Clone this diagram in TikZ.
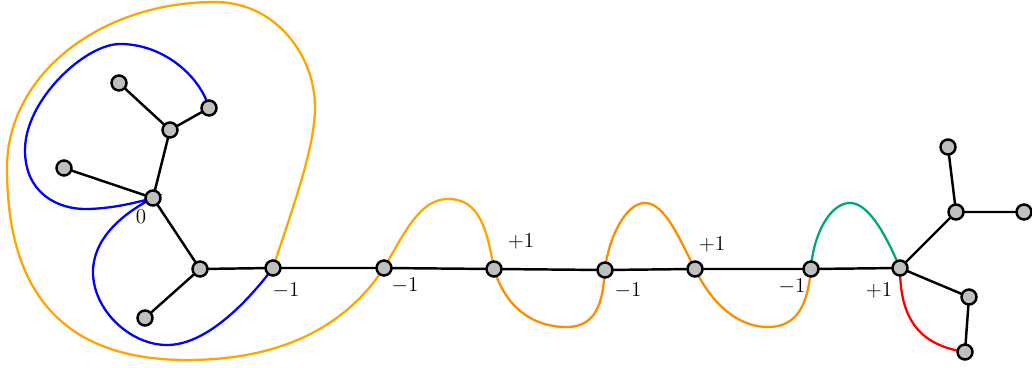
\documentclass[tikz,border=0pt]{standalone}
\usepackage{xcolor}
\definecolor{orgA}{RGB}{255,165,0}
\definecolor{orgB}{RGB}{255,140,0}
\definecolor{grn}{RGB}{0,166,126}
\tikzset{
  vtx/.style={circle,draw=black,fill=black!25,line width=1.4pt,inner sep=0pt,minimum size=3.0mm},
  edge/.style={line width=1.4pt,black},
  crv/.style={line width=1.3pt},
  lbl/.style={font=\fontsize{12}{14}\selectfont,inner sep=0pt}
}
\begin{document}
\begin{tikzpicture}[x=0.02cm,y=-0.02cm]
\useasboundingbox (0,0) rectangle (1032,368);
% vertex positions
\coordinate (A) at (119,83);
\coordinate (B) at (209,108);
\coordinate (C) at (170,130);
\coordinate (D) at (64,168);
\coordinate (E) at (153,198);
\coordinate (F) at (200,269);
\coordinate (G) at (145,318);
\coordinate (H) at (273,268);
\coordinate (I) at (384,268);
\coordinate (J) at (494,269);
\coordinate (K) at (605,270);
\coordinate (L) at (695,269);
\coordinate (M) at (811,269);
\coordinate (N) at (900,268);
\coordinate (O) at (948,147);
\coordinate (P) at (956,212);
\coordinate (Q) at (1024,212);
\coordinate (R) at (969,297);
\coordinate (S) at (965,352);
% curves
\draw[crv,blue] (B) .. controls (201,78) and (165,44) .. (120,44)
  .. controls (85,44) and (25,100) .. (25,150)
  .. controls (25,195) and (60,209) .. (85,209)
  .. controls (110,209) and (135,203) .. (E)
  .. controls (120,215) and (93,240) .. (93,272)
  .. controls (93,310) and (130,345) .. (167,345)
  .. controls (205,345) and (245,305) .. (H);
\draw[crv,orgA] (H) .. controls (290,215) and (315,150) .. (315,107)
  .. controls (315,55) and (275,2) .. (215,2)
  .. controls (100,2) and (7,75) .. (7,168)
  .. controls (7,300) and (70,360) .. (187,360)
  .. controls (290,360) and (350,320) .. (I)
  .. controls (405,232) and (420,199) .. (448,199)
  .. controls (480,199) and (487,230) .. (J);
\draw[crv,orgB] (J) .. controls (505,305) and (530,327) .. (567,327)
  .. controls (600,327) and (603,295) .. (K)
  .. controls (608,240) and (625,203) .. (645,203)
  .. controls (665,203) and (680,240) .. (L)
  .. controls (710,300) and (735,327) .. (768,327)
  .. controls (800,327) and (808,300) .. (M);
\draw[crv,grn] (M) .. controls (813,235) and (830,203) .. (850,203)
  .. controls (870,203) and (888,240) .. (N);
\draw[crv,red] (N) .. controls (900,320) and (920,345) .. (S);
% edges
\draw[edge] (A) -- (C) (B) -- (C) (C) -- (E) (D) -- (E) (E) -- (F) (F) -- (G)
  (F) -- (H) -- (I) -- (J) -- (K) -- (L) -- (M) -- (N)
  (N) -- (P) (P) -- (O) (P) -- (Q) (N) -- (R) -- (S);
% vertices
\foreach \v in {A,B,C,D,E,F,G,H,I,J,K,L,M,N,O,P,Q,R,S}
  \node[vtx] (n\v) at (\v) {};
% labels
\node[lbl] (l0) at (141,217) {$0$};
\node[lbl] (l1) at (286,291) {$-1$};
\node[lbl] (l2) at (405,286) {$-1$};
\node[lbl] (l3) at (521,242) {$+1$};
\node[lbl] (l4) at (628,291) {$-1$};
\node[lbl] (l5) at (712,245) {$+1$};
\node[lbl] (l6) at (792,287) {$-1$};
\node[lbl] (l7) at (879,291) {$+1$};
\end{tikzpicture}
\end{document}
